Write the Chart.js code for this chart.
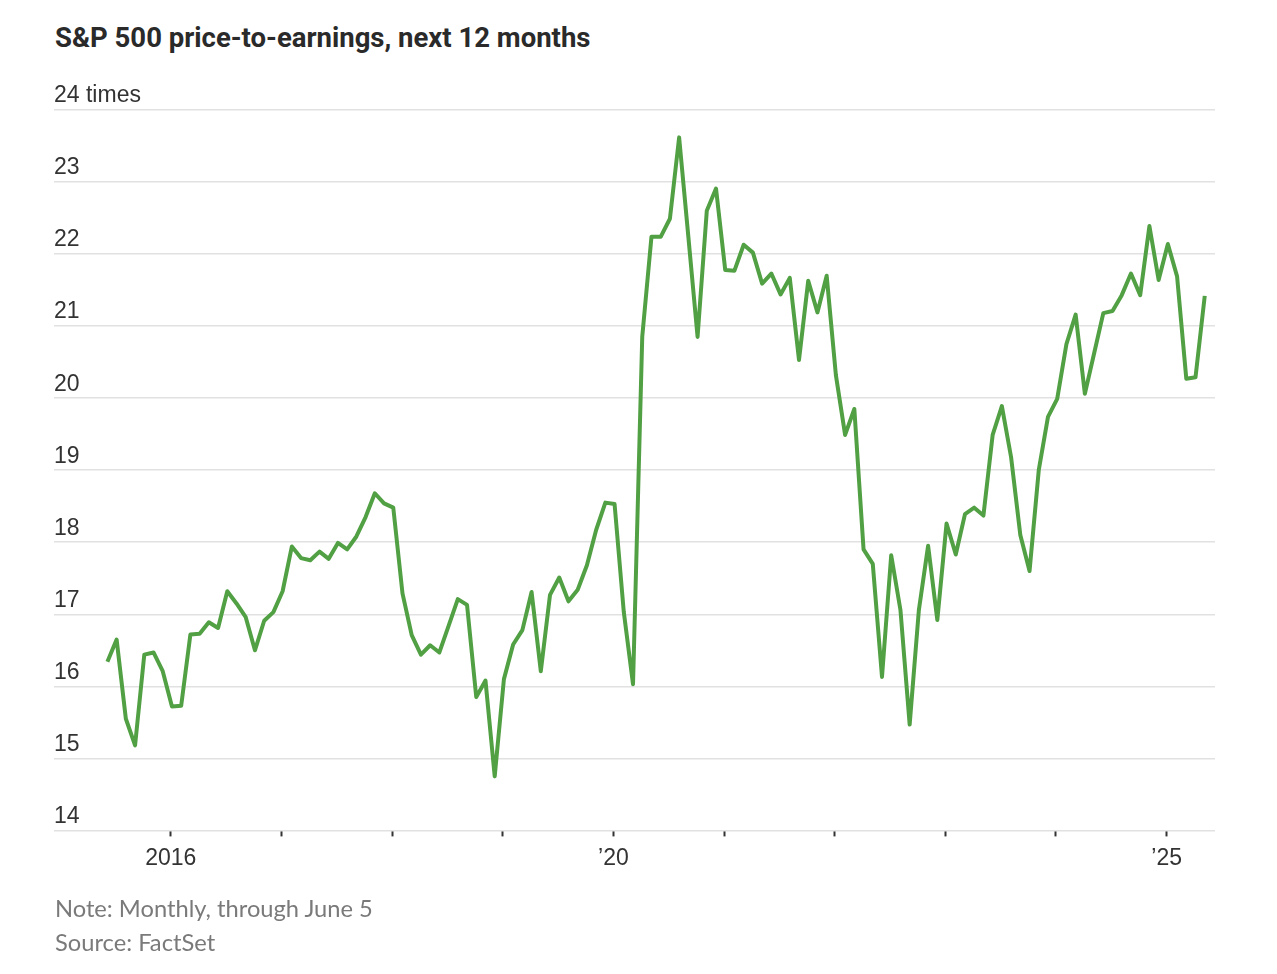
<!DOCTYPE html>
<html>
<head>
<meta charset="utf-8">
<script src="https://cdn.jsdelivr.net/npm/chart.js@4"></script>
<style>
  html, body { margin: 0; padding: 0; background: #fff; }
  body { width: 1277px; height: 974px; position: relative; overflow: hidden; }
  #title { position: absolute; left: 55px; top: 21px; font-family: Roboto, "Liberation Sans", sans-serif; font-weight: 700; font-size: 27.5px; color: #2a2a2a; white-space: nowrap; }
  .note { position: absolute; left: 55px; font-family: Lato, "Liberation Sans", sans-serif; font-size: 23.7px; color: #7a7a7a; white-space: nowrap; }
  canvas { position: absolute; left: 0; top: 0; }
</style>
</head>
<body>
<div id="title">S&amp;P 500 price-to-earnings, next 12 months</div>
<canvas id="c" width="1277" height="974"></canvas>
<div class="note" style="top:894px">Note: Monthly, through June 5</div>
<div class="note" style="top:928px">Source: FactSet</div>
<script>
// Monthly forward P/E, first value = June 2015
const startYear = 2015;
const startMonth = 6;
const pe2015 = [16.34, 16.65, 15.55, 15.18, 16.44, 16.47, 16.21];
const pe2016 = [15.72, 15.73, 16.72, 16.73, 16.89, 16.81, 17.32, 17.15, 16.96, 16.50, 16.91, 17.03];
const pe2017 = [17.32, 17.94, 17.78, 17.75, 17.87, 17.77, 17.99, 17.90, 18.08, 18.35, 18.68, 18.54];
const pe2018 = [18.48, 17.29, 16.71, 16.44, 16.57, 16.47, 16.84, 17.21, 17.13, 15.85, 16.08, 14.75];
const pe2019 = [16.10, 16.58, 16.78, 17.31, 16.21, 17.27, 17.51, 17.18, 17.34, 17.68, 18.17, 18.55];
const pe2020 = [18.53, 17.03, 16.03, 20.85, 22.24, 22.24, 22.49, 23.62, 22.24, 20.85, 22.60, 22.91];
const pe2021 = [21.78, 21.77, 22.13, 22.02, 21.59, 21.73, 21.44, 21.67, 20.53, 21.63, 21.19, 21.70];
const pe2022 = [20.32, 19.49, 19.85, 17.90, 17.70, 16.13, 17.82, 17.06, 15.47, 17.06, 17.95, 16.92];
const pe2023 = [18.26, 17.83, 18.39, 18.48, 18.37, 19.49, 19.89, 19.18, 18.10, 17.60, 19.00, 19.74];
const pe2024 = [19.99, 20.75, 21.16, 20.06, 20.62, 21.18, 21.21, 21.43, 21.73, 21.43, 22.39, 21.64];
const pe2025 = [22.14, 21.69, 20.27, 20.29, 21.42];

const tickYears = [2016, 2017, 2018, 2019, 2020, 2021, 2022, 2023, 2024, 2025];
const tickLabels = { 2016: '2016', 2020: '\u201920', 2025: '\u201925' };
const yTicks = [14, 15, 16, 17, 18, 19, 20, 21, 22, 23, 24];

const allValues = [].concat(pe2015, pe2016, pe2017, pe2018, pe2019, pe2020, pe2021, pe2022, pe2023, pe2024, pe2025);
const points = allValues.map((v, i) => {
  const m = startMonth - 1 + i;
  const year = startYear + Math.floor(m / 12);
  const month = m % 12;
  return { x: year + month / 12 + 4 / 365, y: v };
});

const tickFont = { family: '"Liberation Sans Narrow", "Liberation Sans", sans-serif', size: 23 };

new Chart(document.getElementById('c'), {
  type: 'line',
  data: {
    datasets: [{
      data: points,
      borderColor: '#52a044',
      borderWidth: 4,
      borderJoinStyle: 'round',
      pointRadius: 0,
      tension: 0,
      fill: false
    }]
  },
  options: {
    responsive: false,
    animation: false,
    devicePixelRatio: 1,
    layout: { padding: { left: 54, right: 62, top: 110, bottom: 94 } },
    plugins: { legend: { display: false }, tooltip: { enabled: false } },
    scales: {
      x: {
        type: 'linear',
        min: 2014.945,
        max: 2025.437,
        afterBuildTicks: (s) => { s.ticks = tickYears.map(v => ({ value: v })); },
        ticks: {
          autoSkip: false,
          maxRotation: 0,
          padding: 8,
          color: '#333',
          font: tickFont,
          callback: (v) => tickLabels[v] || ''
        },
        grid: { drawOnChartArea: false, drawTicks: true, tickLength: 6, tickColor: '#333', tickWidth: 2 },
        border: { display: false }
      },
      y: {
        min: 14,
        max: 24,
        afterBuildTicks: (s) => { s.ticks = yTicks.map(v => ({ value: v })); },
        ticks: {
          mirror: true,
          padding: 0,
          labelOffset: -14,
          color: '#333',
          font: tickFont,
          callback: (v) => v === 24 ? '24 times' : String(v)
        },
        grid: { color: '#e1e1e1', lineWidth: 1.5, drawTicks: false },
        border: { display: false }
      }
    }
  }
});
</script>
</body>
</html>
